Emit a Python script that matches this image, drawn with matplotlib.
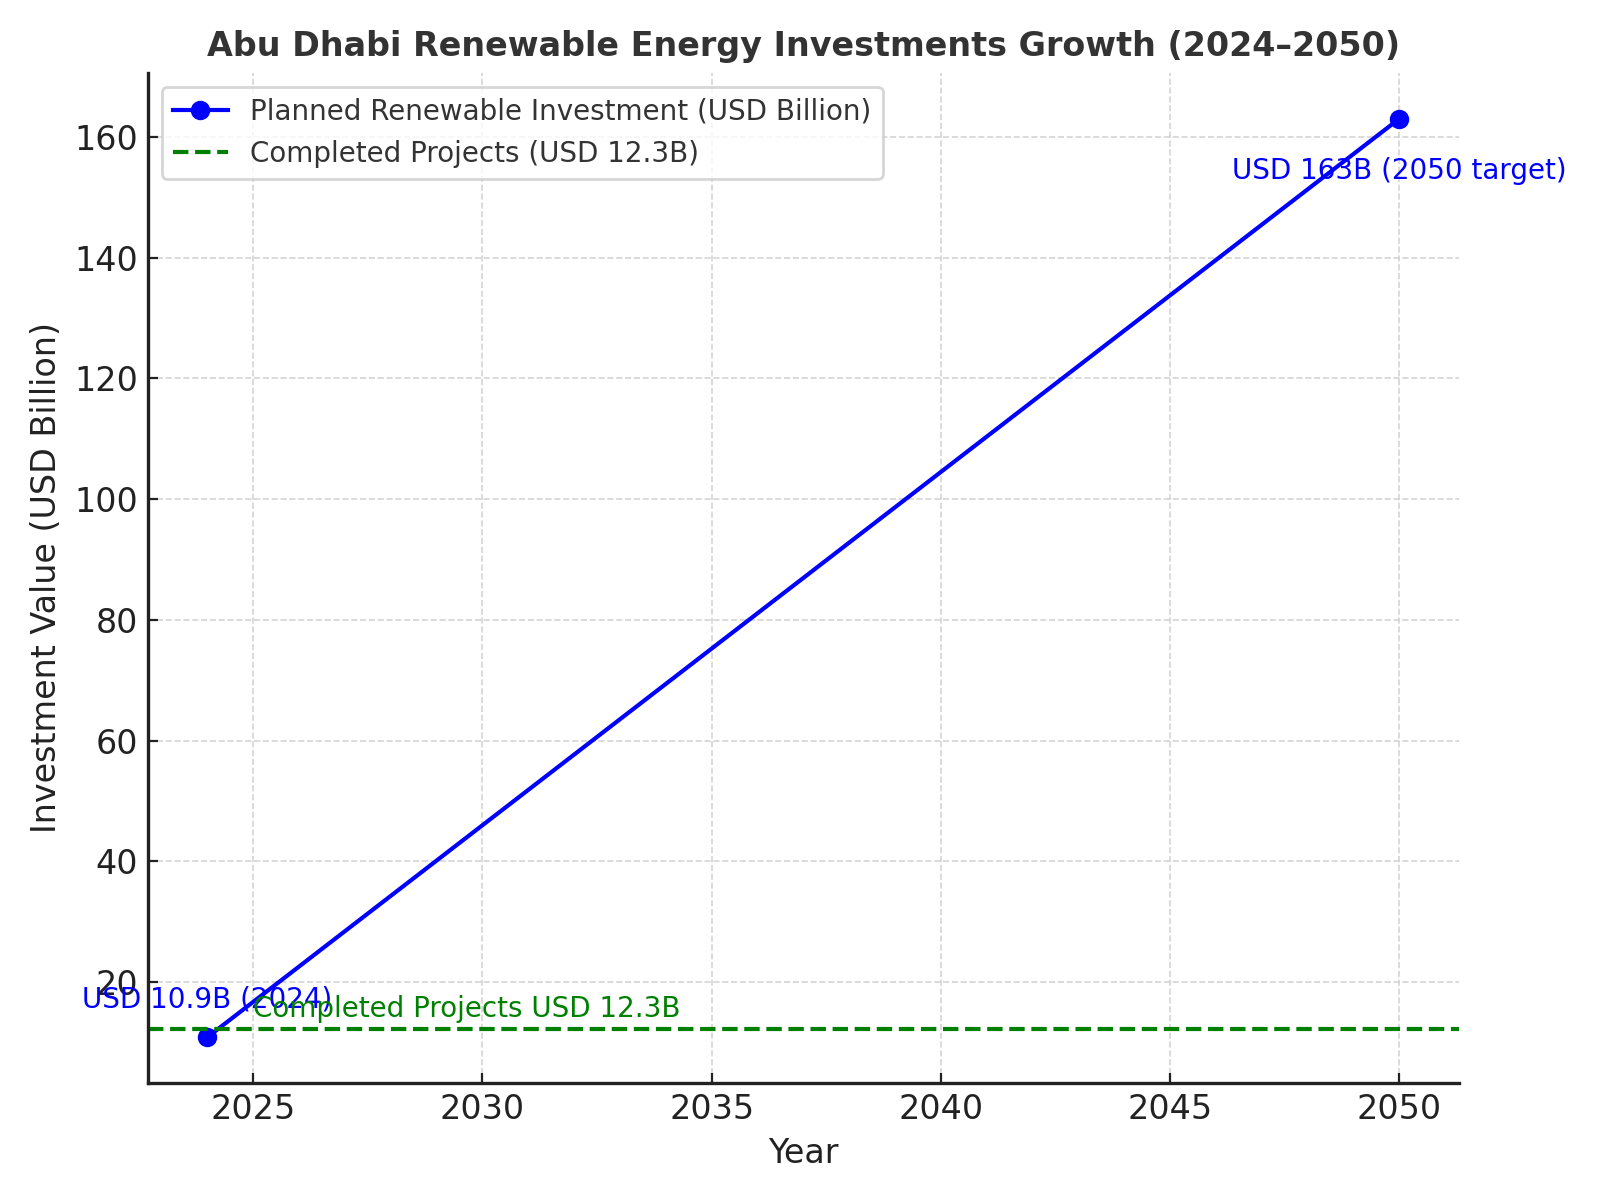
import matplotlib
matplotlib.use("Agg")
import matplotlib.pyplot as plt

years = [2024, 2050]
investment = [10.9, 163]
completed = 12.3

plt.rcParams.update({
    "font.family": "DejaVu Sans",
    "xtick.direction": "in",
    "ytick.direction": "in",
    "axes.spines.top": False,
    "axes.spines.right": False,
    "axes.edgecolor": "#222222",
    "axes.linewidth": 1.2,
    "text.color": "#333333",
    "axes.labelcolor": "#222222",
    "xtick.color": "#222222",
    "ytick.color": "#222222",
})

fig, ax = plt.subplots(figsize=(8, 6), dpi=200)

ax.plot(years, investment, marker="o", color="blue", linewidth=1.5,
        markersize=6, label="Planned Renewable Investment (USD Billion)")
ax.axhline(completed, color="green", linestyle="--", linewidth=1.5,
           label="Completed Projects (USD 12.3B)")

ax.text(years[0], investment[0] + 5, "USD 10.9B (2024)", ha="center",
        color="blue", fontsize=10)
ax.text(years[-1], investment[-1] - 10, "USD 163B (2050 target)", ha="center",
        color="blue", fontsize=10)
ax.text(2025, completed + 2, "Completed Projects USD 12.3B", ha="left",
        color="green", fontsize=10)

ax.set_title("Abu Dhabi Renewable Energy Investments Growth (2024\u20132050)",
             fontsize=12, fontweight="bold", color="#333333")
ax.set_xlabel("Year", fontsize=12)
ax.set_ylabel("Investment Value (USD Billion)", fontsize=12)
ax.tick_params(labelsize=12)
ax.grid(True, linestyle="--", color="#d0d0d0", linewidth=0.6, alpha=0.9)
ax.legend(loc="upper left", fontsize=10)

fig.tight_layout()
fig.savefig("out.png")
